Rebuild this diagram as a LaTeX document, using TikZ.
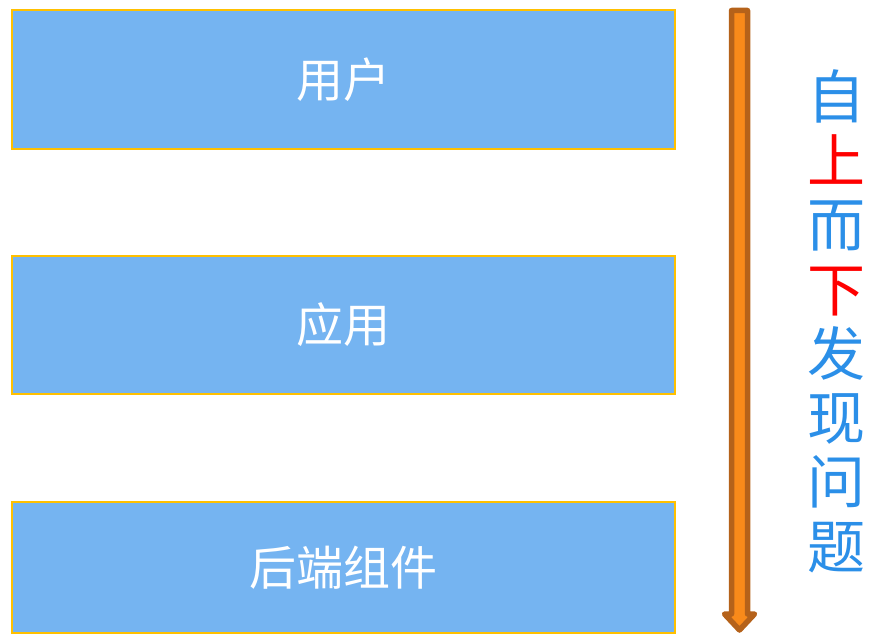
\documentclass[tikz,border=0pt]{standalone}
\usepackage{fontspec}
\newfontfamily\cjk{Noto Sans CJK SC}
\definecolor{boxfill}{HTML}{75B4F1}
\definecolor{boxedge}{HTML}{FFC000}
\definecolor{arrfill}{HTML}{F98A1A}
\definecolor{arredge}{HTML}{B5621A}
\definecolor{txtblue}{HTML}{2B8FE8}
\definecolor{txtred}{HTML}{FF0000}
\tikzset{
  layer/.style={draw=boxedge, line width=2pt, fill=boxfill, minimum width=663pt, minimum height=139pt, inner sep=0pt, text=white, font=\cjk\fontsize{47}{52}\selectfont},
  bigarrow/.style={draw=arredge, fill=arrfill, line width=5.5pt, line join=round},
  sidetext/.style={font=\cjk\fontsize{58}{64.3}\selectfont, align=center, inner sep=0pt}
}
\begin{document}
\begin{tikzpicture}[x=1pt,y=1pt]
\useasboundingbox (0,0) rectangle (869,-634);
\node[layer] (user) at (343.5,-79.5) {\raisebox{-4pt}{用户}};
\node[layer, minimum height=138pt] (app) at (343.5,-325) {\raisebox{-4pt}{应用}};
\node[layer, minimum height=131pt] (backend) at (343.5,-567.5) {\raisebox{-4pt}{后端组件}};
\draw[bigarrow] (731.5,-10.5) -- (747.5,-10.5) -- (747.5,-614) -- (754.5,-614) -- (739.5,-630) -- (724.5,-614) -- (731.5,-614) -- cycle;
\node[sidetext] (side) at (836,-321) {\textcolor{txtblue}{自}\\\textcolor{txtred}{上}\\\textcolor{txtblue}{而}\\\textcolor{txtred}{下}\\\textcolor{txtblue}{发}\\\textcolor{txtblue}{现}\\\textcolor{txtblue}{问}\\\textcolor{txtblue}{题}};
\end{tikzpicture}
\end{document}
